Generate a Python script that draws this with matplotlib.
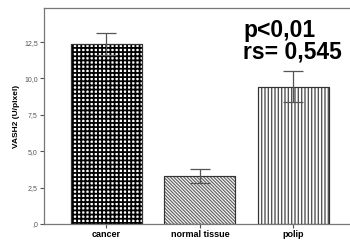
import matplotlib
matplotlib.use("Agg")
import matplotlib.pyplot as plt
import numpy as np

categories = ["cancer", "normal tissue", "polip"]
means = [12.35, 3.28, 9.43]
err_low = [0.75, 0.48, 1.07]
err_high = [0.75, 0.48, 1.07]
hatches = ["++++", "\\\\\\\\\\\\\\\\\\\\", "|||||"]
hatch_colors = ["black", "#666666", "#555555"]
hatch_lws = [1.3, 0.9, 1.0]
yticks = [0, 2.5, 5.0, 7.5, 10.0, 12.5]
ytick_labels = [",0", "2,5", "5,0", "7,5", "10,0", "12,5"]
annotation = "p<0,01\nrs= 0,545"
ylabel = "VASH2 (U/pixel)"

plt.rcParams['font.family'] = ['Liberation Sans', 'DejaVu Sans']
fig = plt.figure(figsize=(3.5, 2.42), dpi=100)
ax = fig.add_axes([44/350, 18/242, 1 - 44/350, 216/242])

x = np.arange(len(categories))
for i in range(len(categories)):
    with plt.rc_context({'hatch.linewidth': hatch_lws[i], 'hatch.color': hatch_colors[i]}):
        ax.bar(x[i], means[i], width=0.76, color="white", edgecolor=hatch_colors[i],
               hatch=hatches[i], linewidth=0.8, zorder=2)
    ax.bar(x[i], means[i], width=0.76, color="none", edgecolor="#333333",
           linewidth=0.8, zorder=3)

ax.errorbar(x, means, yerr=[err_low, err_high], fmt="none", ecolor="#555555",
            elinewidth=0.9, capsize=7.5, capthick=0.9, zorder=4)

ax.set_xlim(-0.668, 2.605)
ax.set_ylim(0, 14.84)
ax.set_xticks(x)
ax.set_xticklabels(categories, fontsize=6.5, fontweight="bold")
ax.set_yticks(yticks)
ax.set_yticklabels(ytick_labels, fontsize=5, color="#555555")
ax.tick_params(axis="both", length=3, width=0.8, color="#555555", pad=1.5)
ax.set_ylabel(ylabel, fontsize=6, fontweight="bold", labelpad=1)
ax.yaxis.set_label_coords(-(44 - 20) / 306, 0.5)
for s in ["left", "bottom", "top"]:
    ax.spines[s].set_color("#777777")
    ax.spines[s].set_linewidth(0.9)
ax.spines["right"].set_visible(False)

fig.text(243/350, 1 - 19/242, annotation, fontsize=16.5, fontweight="bold",
         ha="left", va="top", linespacing=0.92)

fig.savefig("out.png", dpi=100)
